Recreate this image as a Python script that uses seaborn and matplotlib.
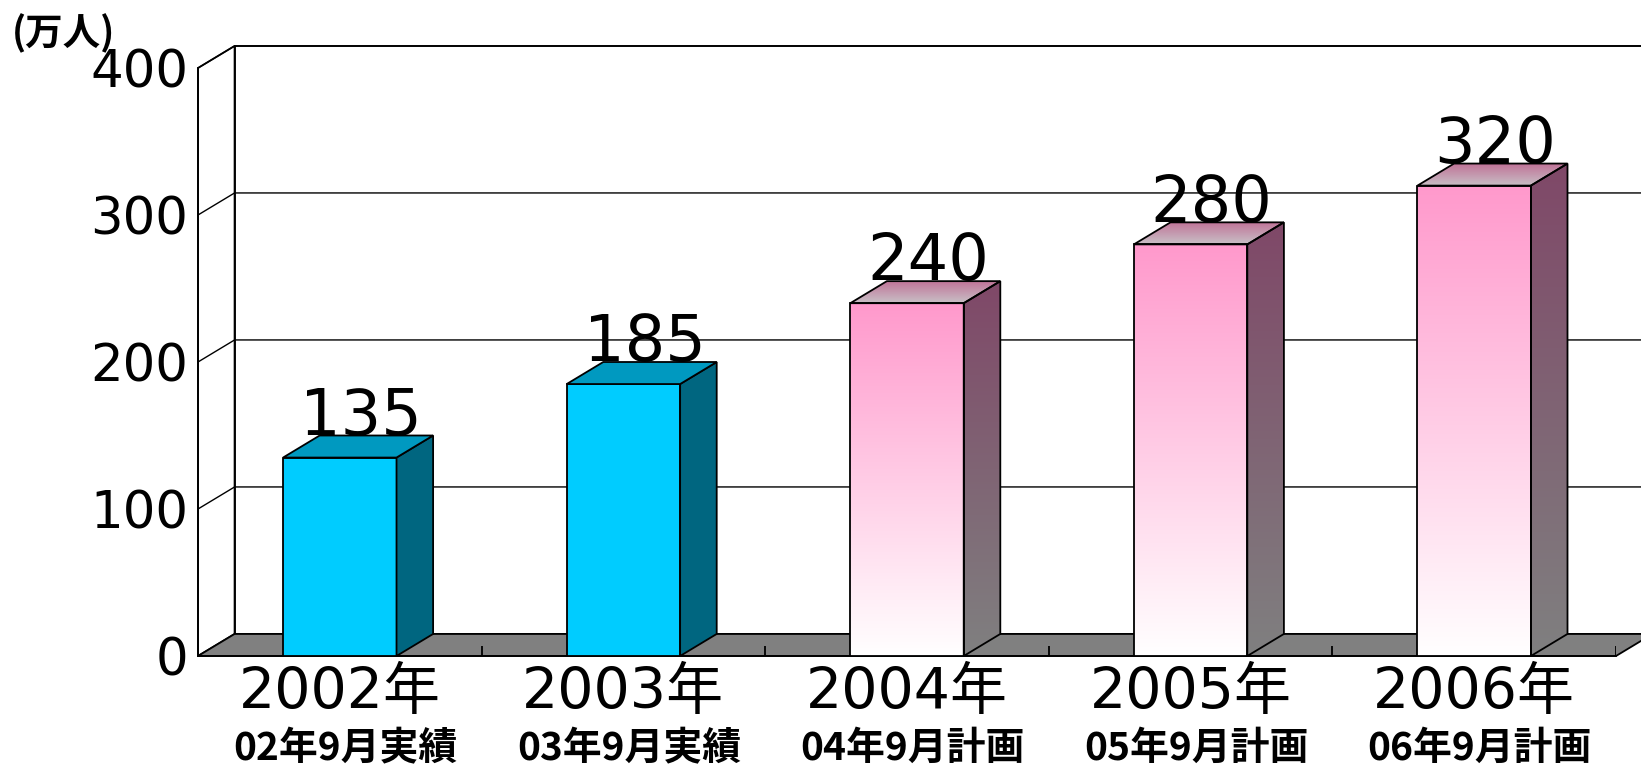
import numpy as np
import matplotlib
matplotlib.use("Agg")
import matplotlib.pyplot as plt
from matplotlib.patches import Polygon, Rectangle
from matplotlib.colors import to_rgb
import seaborn as sns

# --------------- data --------------- #
years = ["2002年", "2003年", "2004年", "2005年", "2006年"]
notes = ["02年9月実績", "03年9月実績", "04年9月計画", "05年9月計画", "06年9月計画"]
values = [135, 185, 240, 280, 320]
kind = ["実績", "実績", "計画", "計画", "計画"]
yticks = [0, 100, 200, 300, 400]
unit = "(万人)"

# 3d look: depth offset in data units
DX, DY = 0.129, 15

sns.set_theme(style="white")
plt.rcParams['font.family'] = ['DejaVu Sans', 'Noto Sans CJK JP']
plt.rcParams['text.color'] = 'black'
plt.rcParams['ytick.color'] = 'black'


def grad(c_low, c_high, n=256):
    a, b = np.array(to_rgb(c_low)), np.array(to_rgb(c_high))
    t = np.linspace(0, 1, n)[:, None, None]
    return a + (b - a) * t


fig = plt.figure(figsize=(16.41, 7.66), dpi=100)
ax = fig.add_axes([198 / 1641, 110 / 766, 1418 / 1641, 588 / 766])

sns.barplot(x=years, y=values, hue=kind, dodge=False, legend=False,
            palette={"実績": "#00CCFF", "計画": "white"}, saturation=1, width=0.4,
            edgecolor="black", linewidth=1.3, zorder=5, ax=ax)
bars = sorted(ax.patches, key=lambda p: p.get_x())

x_lo, x_hi = -0.5, len(years) - 0.5
top = yticks[-1]

# back wall, left wall, floor
ax.add_patch(Rectangle((x_lo + DX, DY), x_hi - x_lo + 1, top, fc="white",
                       ec="black", lw=1.3, zorder=1, clip_on=False))
ax.add_patch(Polygon([(x_lo, 0), (x_lo + DX, DY), (x_lo + DX, top + DY), (x_lo, top)],
                     fc="white", ec="black", lw=1.3, zorder=1, clip_on=False))
for v in yticks[1:]:
    ax.plot([x_lo, x_lo + DX, x_hi + 1], [v, v + DY, v + DY], color="black",
            lw=1.0, zorder=2, clip_on=False)
ax.add_patch(Polygon([(x_lo, 0), (x_hi, 0), (x_hi + DX, DY), (x_lo + DX, DY)],
                     fc="#808080", ec="black", lw=1.3, zorder=3, clip_on=False))
ax.vlines(np.arange(len(years)) + 0.5, 0, 7, colors="black", lw=1.3, zorder=3.5)

# bars: front gradient, side and top faces
for p, v, k in zip(bars, values, kind):
    x0, w, h = p.get_x(), p.get_width(), p.get_height()
    side = Polygon([(x0 + w, 0), (x0 + w + DX, DY), (x0 + w + DX, h + DY), (x0 + w, h)],
                   ec="black", lw=1.3, zorder=5)
    lid = Polygon([(x0, h), (x0 + w, h), (x0 + w + DX, h + DY), (x0 + DX, h + DY)],
                  ec="black", lw=1.3, zorder=5)
    if k == "実績":
        side.set_facecolor("#006680")
        lid.set_facecolor("#0099C0")
        ax.add_patch(side)
        ax.add_patch(lid)
    else:
        p.set_facecolor("none")
        side.set_facecolor("none")
        lid.set_facecolor("none")
        ax.add_patch(side)
        ax.add_patch(lid)
        im = ax.imshow(grad("white", "#FF99CC"), origin="lower", aspect="auto",
                       extent=(x0, x0 + w, 0, h), zorder=4, interpolation="bilinear")
        im.set_clip_path(p)
        im = ax.imshow(grad("#808080", "#7F4868"), origin="lower", aspect="auto",
                       extent=(x0 + w, x0 + w + DX, 0, h + DY), zorder=4,
                       interpolation="bilinear")
        im.set_clip_path(side)
        im = ax.imshow(grad("#C8C0C6", "#C07096"), origin="lower", aspect="auto",
                       extent=(x0, x0 + w + DX, h, h + DY), zorder=4,
                       interpolation="bilinear")
        im.set_clip_path(lid)
    ax.text(x0 + w / 2 + DX / 2 + 0.01, h + DY + 0.5, str(v), ha="center",
            va="baseline", fontsize=46, color="black", zorder=6)

ax.set_xlim(x_lo, x_hi)
ax.set_ylim(0, top)
ax.set_yticks(yticks)
ax.set_yticklabels([str(t) for t in yticks], fontsize=37)
ax.tick_params(axis="y", direction="in", length=8, width=1.3, color="black",
               labelcolor="black", pad=7)
ax.set_xticks([])
ax.set_xlabel("")
ax.set_ylabel("")
for s in ["top", "right"]:
    ax.spines[s].set_visible(False)
for s in ["left", "bottom"]:
    ax.spines[s].set_color("black")
    ax.spines[s].set_linewidth(1.3)
    ax.spines[s].set_zorder(3.6)

xt = ax.get_xaxis_transform()
for i, (yr, nt) in enumerate(zip(years, notes)):
    ax.text(i, -0.063, yr, transform=xt, ha="center", va="center", fontsize=41)
    ax.text(i + 0.02, -0.157, nt, transform=xt, ha="center", va="center",
            fontsize=28, fontweight="bold", family=["Noto Sans CJK JP"])

fig.text(12 / 1641, 1 - 33 / 766, unit, ha="left", va="center", fontsize=27,
         fontweight="bold", family=["Noto Sans CJK JP"])

fig.savefig("out.png", dpi=100, facecolor="white")
